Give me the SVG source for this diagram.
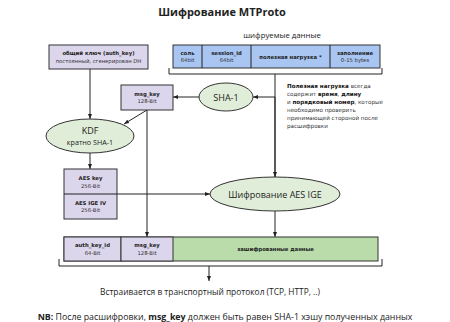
<svg xmlns="http://www.w3.org/2000/svg" width="450" height="322" viewBox="0 0 450 322">
<defs>
<marker id="ah" viewBox="0 0 10 10" refX="10" refY="5" markerWidth="5" markerHeight="5" orient="auto-start-reverse" markerUnits="userSpaceOnUse"><path d="M0,1 L10,5 L0,9 z" fill="#222"/></marker>
<style>
.lav{fill:#dcd6ec;stroke:#333;stroke-width:1}
.blue{fill:#a9c5f1;stroke:#333;stroke-width:1}
.grn{fill:#badbaa;stroke:#333;stroke-width:1}
.ell{fill:#e0eed9;stroke:#333;stroke-width:1}
.ln{stroke:#222;stroke-width:1;fill:none}
.ar{stroke:#222;stroke-width:1;fill:none;marker-end:url(#ah)}
.sb{font-family:"DejaVu Sans",sans-serif;font-size:5.3px;font-weight:bold;fill:#222;text-anchor:middle}
.sr{font-family:"DejaVu Sans",sans-serif;font-size:5.3px;fill:#333;text-anchor:middle}
.big{font-family:"Open Sans",sans-serif;fill:#222;text-anchor:middle}
.side{font-family:"DejaVu Sans",sans-serif;font-size:5.6px;fill:#333}
.side tspan.b{font-weight:bold;fill:#111}
.txt{font-family:"Open Sans",sans-serif;fill:#222;text-anchor:middle}
</style>
</defs>
<rect width="450" height="322" fill="#fff"/>
<text class="txt" x="222" y="16" font-size="11" font-weight="bold">Шифрование MTProto</text>
<text class="txt" x="282" y="38" font-size="7.8">шифруемые данные</text>

<g id="connectors">
<path class="ln" d="M169,68 V74 H382 V68"/>
<path class="ln" d="M275,74 V177"/>
<path class="ar" d="M275,97 H253"/>
<path class="ar" d="M275,97 V177"/>
<path class="ar" d="M199,97 H173"/>
<path class="ar" d="M90,69 V119"/>
<path class="ar" d="M147,110 L124,124"/>
<path class="ar" d="M147,110 V237"/>
<path class="ar" d="M90,153 V169"/>
<path class="ar" d="M117,194 H210"/>
<path class="ar" d="M275,211 V237"/>
<path class="ln" d="M59,259 V266 H382 V259"/>
<path class="ar" d="M209,266 V281"/>
</g>

<g id="encrypted-data">
<rect class="blue" x="173" y="45" width="207" height="23"/>
<line class="ln" x1="202" y1="45" x2="202" y2="68"/>
<line class="ln" x1="251" y1="45" x2="251" y2="68"/>
<line class="ln" x1="330" y1="45" x2="330" y2="68"/>
<text class="sb" x="187.5" y="55">соль</text><text class="sr" x="187.5" y="62">64bit</text>
<text class="sb" x="226.5" y="55">session_id</text><text class="sr" x="226.5" y="62">64bit</text>
<text class="sb" x="290.5" y="58.5">полезная нагрузка *</text>
<text class="sb" x="355" y="55">заполнение</text><text class="sr" x="355" y="62">0-15 bytes</text>
</g>

<g id="auth-key">
<rect class="lav" x="49" y="45" width="99" height="24"/>
<text class="sb" x="98.5" y="55">общий ключ (auth_key)</text>
<text class="sr" x="98.5" y="63">постоянный, сгенерирован DH</text>
</g>

<g id="msg-key">
<rect class="lav" x="121" y="85" width="52" height="25"/>
<text class="sb" x="147" y="95.5">msg_key</text>
<text class="sr" x="147" y="103">128-Bit</text>
</g>

<g id="sha1">
<ellipse class="ell" cx="226" cy="97" rx="27" ry="14"/>
<text class="big" x="226" y="100.5" font-size="9">SHA-1</text>
</g>

<g id="note">
<text class="side" x="287" y="88"><tspan class="b">Полезная нагрузка</tspan> всегда</text>
<text class="side" x="287" y="96">содержит <tspan class="b">время</tspan>, <tspan class="b">длину</tspan></text>
<text class="side" x="287" y="104">и <tspan class="b">порядковый номер</tspan>, которые</text>
<text class="side" x="287" y="112">необходимо проверить</text>
<text class="side" x="287" y="120">принимающей стороной после</text>
<text class="side" x="287" y="128">расшифровки</text>
</g>

<g id="kdf">
<ellipse class="ell" cx="90" cy="136" rx="44" ry="17"/>
<text class="big" x="90" y="134" font-size="9">KDF</text>
<text class="big" x="90" y="145" font-size="7.2">кратно SHA-1</text>
</g>

<g id="aes-keys">
<rect class="lav" x="64" y="169" width="53" height="50"/>
<line class="ln" x1="64" y1="194" x2="117" y2="194"/>
<text class="sb" x="90.5" y="180">AES key</text><text class="sr" x="90.5" y="187.5">256-Bit</text>
<text class="sb" x="90.5" y="204.5">AES IGE IV</text><text class="sr" x="90.5" y="212">256-Bit</text>
</g>

<g id="aes-ige">
<ellipse class="ell" cx="275" cy="194" rx="65" ry="17"/>
<text class="big" x="275" y="197.5" font-size="9">Шифрование AES IGE</text>
</g>

<g id="message">
<rect class="grn" x="64" y="237" width="314" height="24"/>
<rect class="lav" x="64" y="237" width="57" height="24"/>
<rect class="lav" x="121" y="237" width="52" height="24"/>
<text class="sb" x="92.5" y="247">auth_key_id</text><text class="sr" x="92.5" y="255">64-Bit</text>
<text class="sb" x="147" y="247">msg_key</text><text class="sr" x="147" y="255">128-Bit</text>
<text class="sb" x="275.5" y="251">зашифрованные данные</text>
</g>

<text class="txt" x="210" y="295" font-size="8.4">Встраивается в транспортный протокол (TCP, HTTP, ..)</text>
<text class="txt" x="225" y="320" font-size="8.8"><tspan font-weight="bold">NB:</tspan> После расшифровки, <tspan font-weight="bold">msg_key</tspan> должен быть равен SHA-1 хэшу полученных данных</text>
</svg>
